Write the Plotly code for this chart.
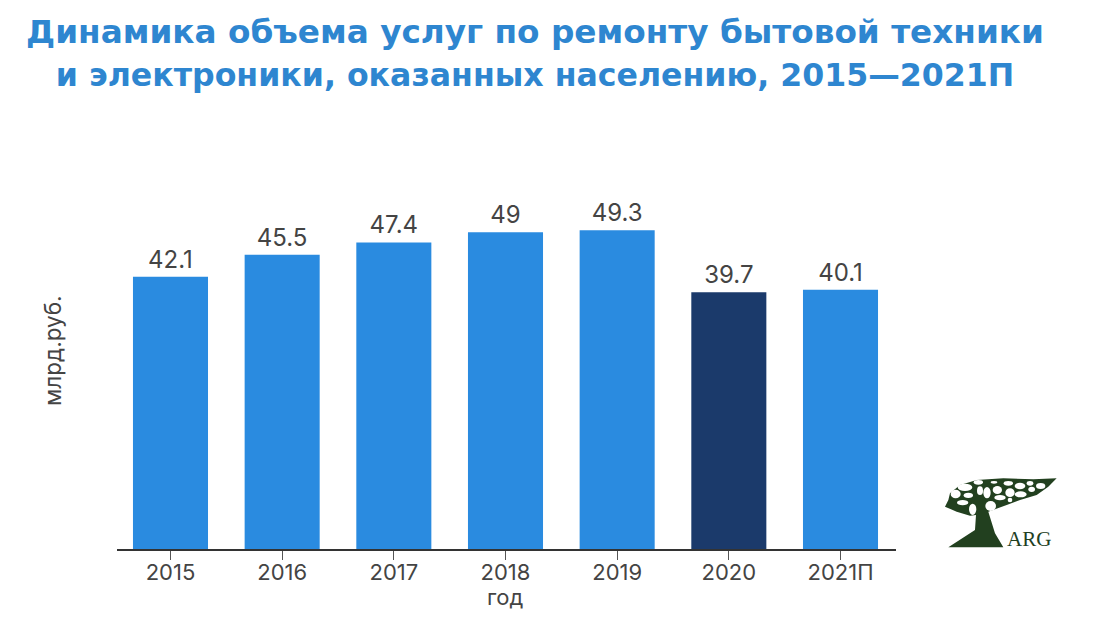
import plotly.graph_objects as go

years = ["2015", "2016", "2017", "2018", "2019", "2020", "2021П"]
values = [42.1, 45.5, 47.4, 49, 49.3, 39.7, 40.1]
labels = ["42.1", "45.5", "47.4", "49", "49.3", "39.7", "40.1"]
colors = ["#2A8BE0", "#2A8BE0", "#2A8BE0", "#2A8BE0", "#2A8BE0", "#1B3A6B", "#2A8BE0"]
FONT = "Inter"
W, H = 1096, 610  # page has an 8 px body margin
L, R, T, B = 117, 896, 161, 549  # plot area in window pixels
GREEN = "#22401F"

fig = go.Figure(go.Bar(
    x=years, y=values, marker=dict(color=colors, line=dict(width=0)),
    text=labels, textposition="outside", cliponaxis=False,
    textfont=dict(family=FONT, size=24, color="#444444"),
))


def px(x, y):
    return (x - L) / (R - L), (B - y) / (B - T)


def zoom_path(pts):
    out = []
    for i, (zx, zy) in enumerate(pts):
        sx, sy = px(920 + zx / 3, 450 + zy / 3)
        out.append(("M" if i == 0 else "L") + f"{sx:.4f},{sy:.4f}")
    return " ".join(out) + " Z"


tree = [(410, 85), (340, 88), (250, 85), (170, 90), (120, 105), (90, 130), (85, 150), (75, 170),
        (110, 185), (150, 197), (168, 195), (165, 240), (85, 292), (250, 292), (225, 250),
        (205, 185), (260, 165), (300, 150), (350, 135), (385, 110)]
shapes = [dict(type="path", xref="paper", yref="paper", path=zoom_path(tree),
               fillcolor=GREEN, line=dict(width=0))]
blobs = [(175, 97, 14, 7), (135, 112, 22, 11), (107, 132, 15, 13), (145, 136, 14, 8), (180, 122, 9, 13),
         (201, 128, 11, 17), (232, 120, 14, 12), (265, 100, 14, 7), (270, 128, 14, 13), (300, 108, 16, 10),
         (330, 100, 10, 7), (362, 108, 14, 9), (335, 118, 10, 8), (302, 133, 18, 9), (240, 143, 17, 8),
         (212, 168, 16, 15), (158, 178, 11, 17), (128, 158, 17, 8), (270, 150, 7, 7), (222, 97, 10, 4)]
for zx, zy, rx, ry in blobs:
    x0, y0 = px(920 + (zx - rx) / 3, 450 + (zy - ry) / 3)
    x1, y1 = px(920 + (zx + rx) / 3, 450 + (zy + ry) / 3)
    shapes.append(dict(type="circle", xref="paper", yref="paper", x0=x0, x1=x1, y0=y0, y1=y1,
                       fillcolor="white", line=dict(width=0)))

ax, ay = px(1029, 539)
lx, ly = px(52, 351)
gx, gy = px(505, 597)
fig.update_layout(
    width=W, height=H, autosize=False,
    paper_bgcolor="white", plot_bgcolor="white",
    margin=dict(l=L - 8, r=W + 8 - R, t=T - 8, b=H + 8 - B),
    showlegend=False, bargap=0.328,
    font=dict(family=FONT, color="#444444"),
    title=dict(
        text='<b>Динамика объема услуг по ремонту бытовой техники<br>'
             '<span style="font-size:31.6px">и электроники, оказанных населению, 2015—2021П</span></b>',
        x=(535 - 8) / W, xanchor="center", y=1 - (43 - 8) / H, yanchor="middle",
        font=dict(family="DejaVu Sans", size=32.7, color="#2E86D0"),
    ),
    xaxis=dict(showline=True, linecolor="#333333", linewidth=1.5, ticks="outside", ticklen=9,
               tickcolor="#555555", tickwidth=1, ticklabelstandoff=-6,
               tickfont=dict(family=FONT, size=22, color="#444444"),
               range=[-0.479, 6.497], showgrid=False),
    yaxis=dict(range=[0, 60], visible=False, showgrid=False),
    shapes=shapes,
    annotations=[
        dict(text="млрд.руб.", x=lx, y=ly, xref="paper", yref="paper", textangle=-90, showarrow=False,
             xanchor="center", yanchor="middle", font=dict(family=FONT, size=22.5, color="#444444")),
        dict(text="год", x=gx, y=gy, xref="paper", yref="paper", showarrow=False,
             xanchor="center", yanchor="middle", font=dict(family=FONT, size=22, color="#444444")),
        dict(text="ARG", x=ax, y=ay, xref="paper", yref="paper", showarrow=False,
             xanchor="center", yanchor="middle", font=dict(family="Liberation Serif", size=21, color=GREEN)),
    ],
)
fig.write_html("out.html")
